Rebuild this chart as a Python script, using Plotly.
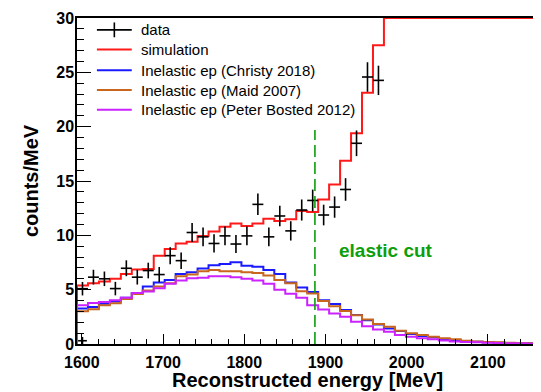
import numpy as np
import plotly.graph_objects as go

# ---------------- data ----------------
bin_lo = 1594.0      # MeV, left edge of first bin
bin_w = 13.5         # MeV, bin width
n_bins = 42

# measured data, counts/MeV for the first 28 bins (later bins are off-scale)
data_counts = [5.09, 6.15, 6.0, 5.1, 6.97, 6.15, 6.76, 6.39, 8.13, 7.67,
               10.26, 9.86, 9.25, 9.95, 9.2, 9.95, 12.85, 9.86, 11.78, 10.41,
               12.33, 13.21, 11.87, 12.6, 14.22, 18.47, 24.57, 24.26]
data_err = [0.62, 0.68, 0.67, 0.62, 0.73, 0.68, 0.72, 0.70, 0.78, 0.76,
            0.88, 0.86, 0.84, 0.87, 0.83, 0.87, 0.99, 0.86, 0.94, 0.89,
            0.97, 1.00, 0.95, 0.98, 1.04, 1.18, 1.36, 1.35]
# extra point sitting on the zero line in the first bin
low_counts = [0.3]
low_err = [0.35]

# simulation (bins >= 28 are above the frame, shown clipped at 30)
sim_counts = [5.39, 5.6, 5.75, 6.0, 6.45, 6.85, 6.9, 8.13, 8.74, 9.25,
              9.4, 9.95, 10.35, 10.78, 11.08, 10.87, 11.08, 11.53, 11.32, 11.48,
              12.24, 12.15, 13.3, 14.68, 16.87, 19.4, 23.13, 27.5,
              30, 30, 30, 30, 30, 30, 30, 30, 30, 30, 30, 30, 30, 30]
christy_counts = [3.26, 3.41, 3.71, 3.9, 4.26, 4.69, 5.3, 5.65, 5.9, 6.45,
                  6.6, 6.95, 7.25, 7.37, 7.52, 7.21, 7.12, 6.82, 6.45, 5.65,
                  5.2, 4.78, 4.03, 3.68, 3.12, 2.67, 2.19, 1.8, 1.43, 1.19,
                  0.91, 0.73, 0.61, 0.46, 0.37, 0.27, 0.21, 0.15, 0.12, 0.09,
                  0.06, 0.06]
maid_counts = [3.01, 3.2, 3.56, 3.75, 4.15, 4.6, 4.93, 5.3, 5.6, 6.24,
               6.39, 6.7, 6.82, 6.7, 6.7, 6.6, 6.54, 6.3, 5.9, 5.6,
               4.85, 4.65, 3.96, 3.47, 3.04, 2.65, 2.25, 1.83, 1.58, 1.22,
               0.98, 0.82, 0.67, 0.52, 0.43, 0.3, 0.24, 0.18, 0.15, 0.12,
               0.09, 0.06]
bosted_counts = [3.56, 3.77, 3.86, 4.02, 4.26, 4.69, 4.84, 5.14, 5.54, 5.84,
                 6.06, 6.1, 6.24, 6.24, 6.15, 6.0, 5.84, 5.54, 5.0, 4.63,
                 4.26, 3.56, 3.17, 2.8, 2.5, 2.04, 1.64, 1.34, 1.12, 0.82,
                 0.67, 0.52, 0.43, 0.33, 0.24, 0.18, 0.15, 0.12, 0.09, 0.06,
                 0.06, 0.03]

elastic_cut_x = 1887.0
elastic_cut_top = 19.7

legend_labels = ["data", "simulation", "Inelastic ep (Christy 2018)",
                 "Inelastic ep (Maid 2007)", "Inelastic ep (Peter Bosted 2012)"]
x_title = "Reconstructed energy [MeV]"
y_title = "counts/MeV"

# ---------------- styling ----------------
FONT = "Liberation Sans"
RED = "#ff1a1a"
BLUE = "#1a1aff"
ORANGE = "#c8661e"
MAGENTA = "#cc22ff"
GREEN = "#0c9e0c"

# page body has an 8px margin: figure sits at (8, 8) in the window
OFF = 8
FIG_W, FIG_H = 541 - OFF, 392 - OFF

edges = bin_lo + bin_w * np.arange(n_bins + 1)
centers = edges[:-1] + bin_w / 2


def step_xy(vals):
    vals = np.asarray(vals, dtype=float)
    n = len(vals)
    x = np.concatenate([[edges[0]], edges[:n], [edges[n]]])
    y = np.concatenate([[0.0], vals, [vals[-1]]])
    return x, y


fig = go.Figure()

for vals, col, name in [(sim_counts, RED, legend_labels[1]),
                        (christy_counts, BLUE, legend_labels[2]),
                        (maid_counts, ORANGE, legend_labels[3]),
                        (bosted_counts, MAGENTA, legend_labels[4])]:
    x, y = step_xy(vals)
    fig.add_trace(go.Scatter(x=x, y=y, mode="lines", line_shape="hv",
                             line=dict(color=col, width=2), name=name,
                             showlegend=False))

fig.add_trace(go.Scatter(
    x=centers[:len(data_counts)], y=data_counts, mode="markers",
    marker=dict(size=0.1, color="black"),
    error_y=dict(type="data", array=data_err, color="black", thickness=1.6, width=0),
    error_x=dict(type="constant", value=bin_w / 2, color="black", thickness=1.6, width=0),
    name=legend_labels[0], showlegend=False))
fig.add_trace(go.Scatter(
    x=centers[:len(low_counts)], y=low_counts, mode="markers",
    marker=dict(size=0.1, color="black"),
    error_y=dict(type="data", array=low_err, color="black", thickness=1.6, width=0),
    error_x=dict(type="constant", value=bin_w / 2 * 0.8, color="black", thickness=1.6, width=0),
    showlegend=False))

# elastic cut line and label
fig.add_shape(type="line", xref="x", yref="y", x0=elastic_cut_x, x1=elastic_cut_x,
              y0=0, y1=elastic_cut_top, line=dict(color=GREEN, width=1.6, dash="12px,5px"))
fig.add_annotation(x=1914, y=8.6, xref="x", yref="y", text="<b>elastic cut</b>",
                   showarrow=False, xanchor="left", yanchor="middle",
                   font=dict(family=FONT, size=19, color=GREEN))

# plot area in window pixels
L, T, W, H = 77, 14, 462, 330


def px(xp):
    return (xp - L) / W


def py(yp):
    return (T + H - yp) / H


rows = [26, 46, 67, 87, 107]
cols = ["black", RED, BLUE, ORANGE, MAGENTA]
for i, (r, c, lab) in enumerate(zip(rows, cols, legend_labels)):
    fig.add_shape(type="line", xref="paper", yref="paper", x0=px(97), x1=px(132),
                  y0=py(r), y1=py(r), line=dict(color=c, width=1.6 if i == 0 else 2))
    if i == 0:
        fig.add_shape(type="line", xref="paper", yref="paper", x0=px(114.5), x1=px(114.5),
                      y0=py(r - 7.5), y1=py(r + 7.5), line=dict(color="black", width=1.6))
    fig.add_annotation(x=px(139), y=py(r), xref="paper", yref="paper", text=lab,
                       showarrow=False, xanchor="left", yanchor="middle",
                       font=dict(family=FONT, size=15, color="black"))

# x-axis title as an annotation for exact placement
fig.add_annotation(x=0.5, y=py(380.5), xref="paper", yref="paper",
                   text="<b>" + x_title + "</b>", showarrow=False,
                   xanchor="center", yanchor="middle",
                   font=dict(family=FONT, size=20, color="black"))

fig.update_layout(
    width=FIG_W, height=FIG_H,
    margin=dict(l=L - OFF, r=541 - L - W, t=T - OFF, b=392 - T - H),
    paper_bgcolor="white", plot_bgcolor="white",
    font=dict(family=FONT, color="black"),
    showlegend=False,
)
fig.update_xaxes(
    range=[bin_lo, 2160.5], tick0=1600, dtick=100,
    ticks="inside", ticklen=10, tickwidth=1, tickcolor="black",
    minor=dict(dtick=20, tick0=1600, ticks="inside", ticklen=5, tickwidth=1, tickcolor="black"),
    showline=True, mirror=True, linecolor="black", linewidth=1.5,
    showgrid=False, zeroline=False,
    tickfont=dict(family=FONT, size=16, color="black", weight="bold"),
    ticklabelstandoff=3, ticklabeloverflow="allow",
)
fig.update_yaxes(
    range=[0, 30], tick0=0, dtick=5,
    ticks="inside", ticklen=14, tickwidth=1, tickcolor="black",
    minor=dict(dtick=1, tick0=0, ticks="inside", ticklen=7, tickwidth=1, tickcolor="black"),
    showline=True, mirror=True, linecolor="black", linewidth=1.5,
    showgrid=False, zeroline=False,
    tickfont=dict(family=FONT, size=16, color="black", weight="bold"),
    ticklabelstandoff=-2, ticklabeloverflow="allow",
    title=dict(text="<b>" + y_title + "</b>", standoff=12,
               font=dict(family=FONT, size=20, color="black")),
)

fig.write_html("out.html")
